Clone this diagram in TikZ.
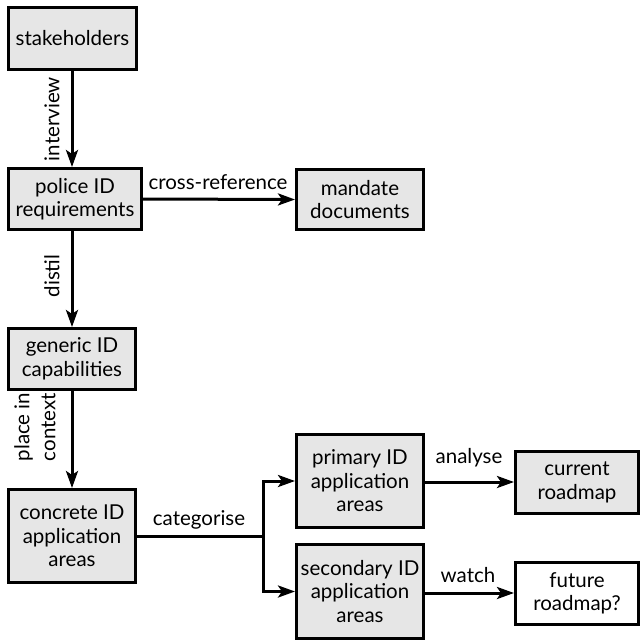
\documentclass[tikz,border=0pt]{standalone}
\usepackage{fontspec}
\setmainfont{Lato}
\usetikzlibrary{arrows.meta}
\definecolor{boxfill}{HTML}{E6E6E6}
\tikzset{
  box/.style={draw=black, line width=3.2pt, fill=boxfill, inner sep=0pt, align=center, font=\fontsize{20.5}{23.5}\selectfont},
  whitebox/.style={box, fill=white},
  conn/.style={line width=3pt, -{Stealth[length=17pt,width=12pt,inset=4pt]}},
  lab/.style={font=\fontsize{20.5}{23.5}\selectfont, inner sep=0pt, align=center}
}
\begin{document}
\begin{tikzpicture}[x=1pt,y=-1pt]
\useasboundingbox (0,0) rectangle (641,643);
\node[box, minimum width=127.8pt, minimum height=61.8pt] (stake) at (72.5,38.5) {stakeholders};
\node[box, minimum width=132.8pt, minimum height=60.8pt] (police) at (75,199) {police ID\\requirements};
\node[box, minimum width=126.8pt, minimum height=59.8pt] (mandate) at (360,199.5) {mandate\\documents};
\node[box, minimum width=126.8pt, minimum height=60.8pt] (generic) at (72,359) {generic ID\\capabilities};
\node[box, minimum width=126.8pt, minimum height=92.8pt] (concrete) at (72,536) {concrete ID\\application\\areas};
\node[box, minimum width=126.8pt, minimum height=92.8pt] (primary) at (360,481) {primary ID\\application\\areas};
\node[box, minimum width=126.8pt, minimum height=93.8pt] (secondary) at (360,591.5) {secondary ID\\application\\areas};
\node[box, minimum width=122.8pt, minimum height=61.8pt] (current) at (577,482.5) {current\\roadmap};
\node[whitebox, minimum width=122.8pt, minimum height=61.8pt] (future) at (577,593.5) {future\\roadmap?};

\draw[conn] (72,71) coordinate (s1) -- (s1 |- police.north) coordinate (s2);
\node[lab, rotate=90] (lint) at (52,119) {interview};
\draw[conn] (72,231) coordinate (d1) -- (d1 |- generic.north);
\node[lab, rotate=90] (ldis) at (52,276) {distil};
\draw[conn] (generic.south) -- (concrete.north);
\node[lab, rotate=90, font=\fontsize{20.5}{26}\selectfont] (lpla) at (35,427) {place in\\context};
\draw[conn] (police.east) -- (mandate.west);
\node[lab] (lcro) at (218,182) {cross-reference};
\coordinate (split) at (263,536);
\draw[line width=3pt] (concrete.east) -- (split);
\node[lab] (lcat) at (199,520) {categorise};
\draw[conn] (split) |- (primary.west);
\draw[conn] (split) |- (secondary.west);
\draw[conn] (primary.east |- 0,482) -- (current.west |- 0,482);
\node[lab] (lana) at (469,458) {analyse};
\draw[conn] (secondary.east |- 0,593) -- (future.west |- 0,593);
\node[lab] (lwat) at (468,575) {watch};
\end{tikzpicture}
\end{document}
